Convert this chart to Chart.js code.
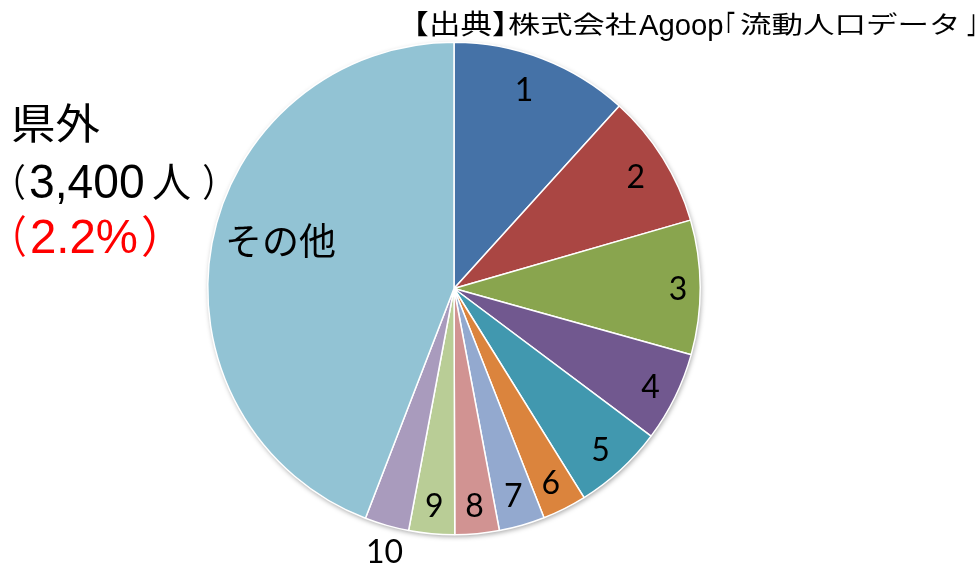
<!DOCTYPE html>
<html>
<head>
<meta charset="utf-8">
<script src="https://cdn.jsdelivr.net/npm/chart.js@4/dist/chart.umd.min.js"></script>
<style>
  html, body { margin: 0; padding: 0; background: #ffffff; }
  #wrap { position: relative; width: 979px; height: 567px; }
  canvas { position: absolute; left: 0; top: 0; }
</style>
</head>
<body>
<div id="wrap"><canvas id="c" width="979" height="567"></canvas></div>
<script>
// Categories and values (share of visitors)
const categories = ['1', '2', '3', '4', '5', '6', '7', '8', '9', '10', 'その他'];
const shares = [11.7, 8.8, 8.8, 5.9, 5.9, 2.9, 3.0, 2.9, 3.0, 2.9, 44.1];
const sliceColors = ['#4572A7', '#AA4643', '#89A54E', '#71588F', '#4198AF', '#DB843D',
                     '#93A9CF', '#D19392', '#B9CD96', '#A99BBD', '#92C3D4'];
const sourceParts = ['【出典】', '株式会社', 'Agoop', '「', '流動人口データ', '」'];
const sideTitle = '県外';
const sideCount = ['（', '3,400', '人', '）'];
const sideShare = ['（', '2.2%', '）'];

const CJK = '"Noto Sans CJK JP", sans-serif';
const LAT = '"Liberation Sans", Arial, sans-serif';

// draw text so that its ink fills the box [x0,x1] x [y0,y1]
function fitInk(ctx, text, font, x0, x1, y0, y1) {
  ctx.save();
  ctx.font = font;
  ctx.textAlign = 'left';
  ctx.textBaseline = 'alphabetic';
  const m = ctx.measureText(text);
  const L = m.actualBoundingBoxLeft, R = m.actualBoundingBoxRight;
  const A = m.actualBoundingBoxAscent, D = m.actualBoundingBoxDescent;
  const sx = (x1 - x0) / (L + R);
  const sy = (y1 - y0) / (A + D);
  ctx.translate(x0 + L * sx, y0 + A * sy);
  ctx.scale(sx, sy);
  ctx.fillText(text, 0, 0);
  ctx.restore();
}
// draw text so its ink spans [x0,x1] horizontally, on a baseline, with a given cap/digit height
function fitBase(ctx, text, font, x0, x1, baseline, capH, refChar) {
  ctx.save();
  ctx.font = font;
  ctx.textAlign = 'left';
  ctx.textBaseline = 'alphabetic';
  const m = ctx.measureText(text);
  const r = ctx.measureText(refChar);
  const sx = (x1 - x0) / (m.actualBoundingBoxLeft + m.actualBoundingBoxRight);
  const sy = capH / r.actualBoundingBoxAscent;
  ctx.translate(x0 + m.actualBoundingBoxLeft * sx, baseline);
  ctx.scale(sx, sy);
  ctx.fillText(text, 0, 0);
  ctx.restore();
}

const labelFactor = [0.86, 0.87, 0.91, 0.89, 0.88, 0.875, 0.87, 0.88, 0.88, 1.10, 0.73];
const labelAngleShift = [-1.8, 0, 0, 0, 0, 0, 0, 0, 0, -1, 4.5];

const labelPlugin = {
  id: 'sliceLabels',
  beforeDatasetsDraw(chart) {
    const meta = chart.getDatasetMeta(0);
    const a = meta.data[0];
    if (!a) return;
    const ctx = chart.ctx;
    ctx.save();
    ctx.shadowColor = 'rgba(0,0,0,0.35)';
    ctx.shadowBlur = 5;
    ctx.shadowOffsetX = 1;
    ctx.shadowOffsetY = 2;
    ctx.fillStyle = '#ffffff';
    ctx.beginPath();
    ctx.arc(a.x, a.y, a.outerRadius, 0, Math.PI * 2);
    ctx.fill();
    ctx.restore();
  },
  afterDatasetsDraw(chart) {
    const ctx = chart.ctx;
    const meta = chart.getDatasetMeta(0);
    ctx.save();
    ctx.textAlign = 'center';
    ctx.textBaseline = 'alphabetic';
    ctx.fillStyle = '#000000';
    meta.data.forEach((arc, i) => {
      const mid = (arc.startAngle + arc.endAngle) / 2 + labelAngleShift[i] * Math.PI / 180;
      const r = arc.outerRadius * labelFactor[i];
      const x = arc.x + Math.cos(mid) * r;
      const y = arc.y + Math.sin(mid) * r;
      if (i === 10) {
        ctx.font = '37px ' + CJK;
        ctx.fillText(categories[i], x, y + 13);
      } else {
        ctx.font = '32px Lato, "Open Sans", sans-serif';
        ctx.fillText(categories[i], x, y + 12.5);
      }
    });
    ctx.restore();

    // source note
    ctx.save();
    ctx.fillStyle = '#000000';
    fitInk(ctx, sourceParts[0], '26px ' + CJK, 418, 503, 10, 37);
    fitInk(ctx, sourceParts[1], '26px ' + CJK, 508, 637, 12, 36);
    fitBase(ctx, sourceParts[2], '28px ' + LAT, 639, 723, 35, 20, 'A');
    fitInk(ctx, sourceParts[3], '26px ' + CJK, 727, 735, 11, 33);
    fitInk(ctx, sourceParts[4], '26px ' + CJK, 740, 957, 12, 36);
    fitInk(ctx, sourceParts[5], '26px ' + CJK, 967, 975, 14, 37);

    // side annotation
    fitInk(ctx, sideTitle, '44px ' + CJK, 13, 100, 103, 143);
    fitInk(ctx, sideCount[0], '40px ' + CJK, 15, 25, 163, 200);
    fitBase(ctx, sideCount[1], '46px ' + LAT, 30, 143, 198, 33, '0');
    fitInk(ctx, sideCount[2], '38px ' + CJK, 153, 190, 163, 200);
    fitInk(ctx, sideCount[3], '40px ' + CJK, 203, 213, 163, 200);
    ctx.fillStyle = '#FF0000';
    fitInk(ctx, sideShare[0], '44px ' + CJK, 15, 25, 215, 257);
    fitBase(ctx, sideShare[1], '46px ' + LAT, 32, 137, 253, 33, '0');
    fitInk(ctx, sideShare[2], '44px ' + CJK, 143, 155, 215, 257);
    ctx.restore();
  }
};

new Chart(document.getElementById('c'), {
  type: 'pie',
  data: {
    labels: categories,
    datasets: [{
      data: shares,
      backgroundColor: sliceColors,
      borderColor: '#ffffff',
      borderWidth: 1.5
    }]
  },
  options: {
    responsive: false,
    animation: false,
    rotation: 0,
    layout: { padding: { left: 207, right: 278, top: 41, bottom: 31 } },
    plugins: {
      legend: { display: false },
      tooltip: { enabled: false },
      title: { display: false }
    }
  },
  plugins: [labelPlugin]
});
</script>
</body>
</html>
